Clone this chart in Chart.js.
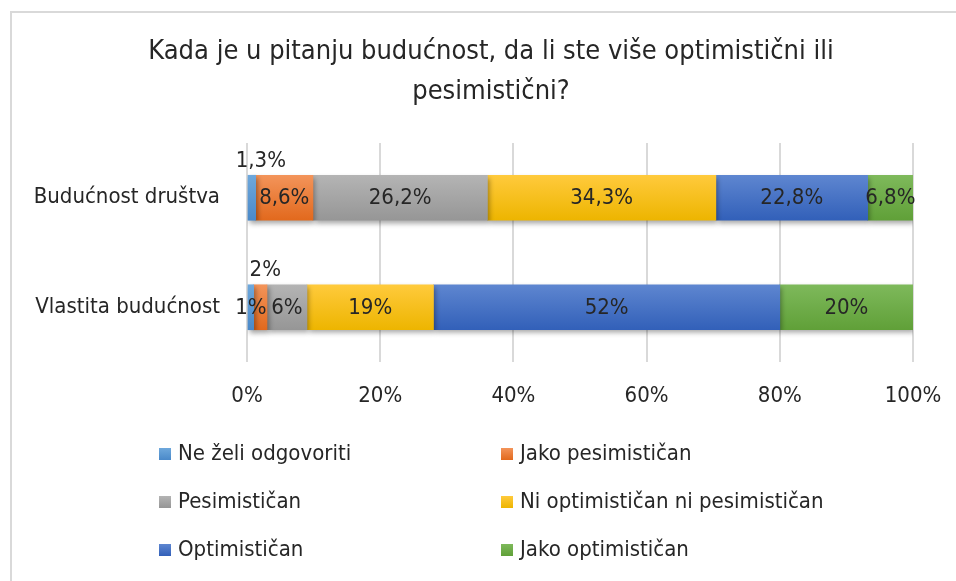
<!DOCTYPE html>
<html>
<head>
<meta charset="utf-8">
<script src="https://cdn.jsdelivr.net/npm/chart.js@4"></script>
<style>
  html, body { margin: 0; padding: 0; background: #ffffff; }
  #wrap { width: 956px; height: 581px; position: relative; }
</style>
</head>
<body>
<div id="wrap"><canvas id="c" width="956" height="581"></canvas></div>
<script>
// ---- data ----
const titleLines = ["Kada je u pitanju budućnost, da li ste više optimistični ili", "pesimistični?"];
const categories = ["Budućnost društva", "Vlastita budućnost"];
const seriesNames = ["Ne želi odgovoriti", "Jako pesimističan", "Pesimističan", "Ni optimističan ni pesimističan", "Optimističan", "Jako optimističan"];
const neZeli      = [1.3, 1];
const jakoPes     = [8.6, 2];
const pesim       = [26.2, 6];
const niNi        = [34.3, 19];
const optim       = [22.8, 52];
const jakoOpt     = [6.8, 20];
const xTicks      = [0, 20, 40, 60, 80, 100];

// ---- styles ----
const FONT = "'DejaVu Sans Condensed', 'Liberation Sans Narrow', 'DejaVu Sans', sans-serif";
const TEXT = '#262626';
const grads = [
  ['#6ea8dc', '#4a89c9'],
  ['#f3945a', '#e2691d'],
  ['#b4b4b4', '#969696'],
  ['#ffca3c', '#edb500'],
  ['#5e86d0', '#3260b9'],
  ['#7eb95b', '#60a038']
];
const BAR_H = 45;
// label placement overrides: "datasetIndex-dataIndex"
const labelPlace = { '0-0': { above: true, dx: 9 }, '1-1': { above: true, dx: 5 } };

function gradFor(i) {
  return function(ctx) {
    const chart = ctx.chart;
    const y = chart.scales && chart.scales.y;
    if (!y || ctx.dataIndex === undefined) return grads[i][0];
    const cy = y.getPixelForValue(ctx.dataIndex);
    if (!isFinite(cy)) return grads[i][0];
    const g = chart.ctx.createLinearGradient(0, cy - BAR_H / 2, 0, cy + BAR_H / 2);
    g.addColorStop(0, grads[i][0]);
    g.addColorStop(1, grads[i][1]);
    return g;
  };
}

const seriesData = [neZeli, jakoPes, pesim, niNi, optim, jakoOpt];
const datasets = seriesData.map((d, i) => ({
  label: seriesNames[i],
  data: d,
  backgroundColor: gradFor(i),
  borderWidth: 0,
  barThickness: BAR_H
}));

const fmt = v => String(v).replace('.', ',') + '%';

const framePlugin = {
  id: 'frame',
  beforeDraw(chart) {
    const c = chart.ctx;
    c.save();
    c.fillStyle = '#ffffff';
    c.fillRect(0, 0, chart.width, chart.height);
    c.strokeStyle = '#d9d9d9';
    c.lineWidth = 2;
    c.beginPath();
    c.moveTo(11, chart.height + 2);
    c.lineTo(11, 12);
    c.lineTo(chart.width + 2, 12);
    c.stroke();
    c.restore();
  }
};

const titlePlugin = {
  id: 'centeredTitle',
  afterDraw(chart) {
    const c = chart.ctx;
    c.save();
    c.font = "27px " + FONT;
    c.fillStyle = TEXT;
    c.textAlign = 'center';
    c.textBaseline = 'middle';
    titleLines.forEach((t, i) => c.fillText(t, 491, 52 + i * 40));
    c.restore();
  }
};

const shadowPlugin = {
  id: 'barShadow',
  beforeDatasetsDraw(chart) {
    const c = chart.ctx;
    c.save();
    c.shadowColor = 'rgba(0,0,0,0.35)';
    c.shadowBlur = 5;
    c.shadowOffsetX = 2;
    c.shadowOffsetY = 3;
  },
  afterDatasetsDraw(chart) {
    chart.ctx.restore();
  }
};

const labelPlugin = {
  id: 'dataLabels',
  afterDatasetsDraw(chart) {
    const c = chart.ctx;
    c.save();
    c.font = "22px " + FONT;
    c.fillStyle = TEXT;
    c.textAlign = 'center';
    c.textBaseline = 'middle';
    chart.data.datasets.forEach((ds, di) => {
      const meta = chart.getDatasetMeta(di);
      meta.data.forEach((el, i) => {
        const p = el.getProps(['x', 'y', 'base', 'height'], true);
        let cx = (p.x + p.base) / 2;
        let cy = p.y;
        const pl = labelPlace[di + '-' + i];
        if (pl && pl.above) {
          cx += pl.dx || 0;
          cy = p.y - p.height / 2 - 15;
        }
        c.fillText(fmt(ds.data[i]), cx, cy + 1);
      });
    });
    c.restore();
  }
};

const legendPlugin = {
  id: 'twoColLegend',
  afterDraw(chart) {
    const c = chart.ctx;
    const colX = [159, 501];
    const rowY = [454, 502, 550];
    const box = 12;
    c.save();
    c.font = "22px " + FONT;
    c.textBaseline = 'middle';
    c.textAlign = 'left';
    chart.data.datasets.forEach((ds, i) => {
      const x = colX[i % 2];
      const y = rowY[Math.floor(i / 2)];
      const g = c.createLinearGradient(0, y - box / 2, 0, y + box / 2);
      g.addColorStop(0, grads[i][0]);
      g.addColorStop(1, grads[i][1]);
      c.fillStyle = g;
      c.fillRect(x, y - box / 2, box, box);
      c.fillStyle = TEXT;
      c.fillText(ds.label, x + 19, y);
    });
    c.restore();
  }
};

new Chart(document.getElementById('c'), {
  type: 'bar',
  data: { labels: categories, datasets: datasets },
  options: {
    indexAxis: 'y',
    responsive: false,
    animation: false,
    devicePixelRatio: 1,
    layout: { padding: { left: 0, right: 43, top: 143, bottom: 169 } },
    plugins: {
      legend: { display: false },
      tooltip: { enabled: false },
      title: { display: false }
    },
    scales: {
      x: {
        stacked: true,
        min: 0,
        max: 100,
        afterBuildTicks(scale) { scale.ticks = xTicks.map(v => ({ value: v })); },
        afterFit(scale) { scale.height = 50; scale.paddingLeft = 0; scale.paddingRight = 0; },
        border: { display: false },
        grid: { color: '#d9d9d9', lineWidth: 2, drawTicks: false },
        ticks: {
          color: TEXT,
          padding: 21,
          maxRotation: 0,
          font: { family: FONT, size: 22 },
          callback: v => v + '%'
        }
      },
      y: {
        stacked: true,
        afterFit(scale) { scale.width = 247; },
        border: { display: false },
        grid: { display: false, drawTicks: false },
        ticks: {
          color: TEXT,
          padding: 27,
          font: { family: FONT, size: 22 }
        }
      }
    }
  },
  plugins: [framePlugin, titlePlugin, shadowPlugin, labelPlugin, legendPlugin]
});
</script>
</body>
</html>
